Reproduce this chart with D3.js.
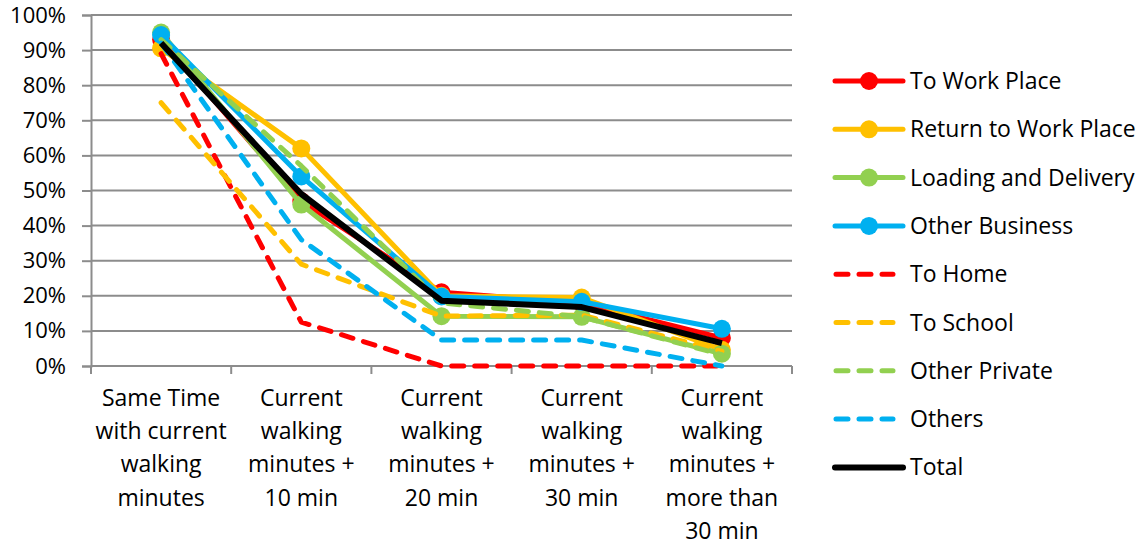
<!DOCTYPE html>
<html><head><meta charset="utf-8">
<script src="https://cdn.jsdelivr.net/npm/d3@7"></script>
<style>body{margin:0;background:#fff;} text{font-family:"Open Sans",Lato,sans-serif;fill:#000;}</style>
</head><body>
<svg id="c" width="1148" height="545"></svg>
<script>
const categories = [
  ["Same Time","with current","walking","minutes"],
  ["Current","walking","minutes +","10 min"],
  ["Current","walking","minutes +","20 min"],
  ["Current","walking","minutes +","30 min"],
  ["Current","walking","minutes +","more than","30 min"]
];
const yTicks = [0,10,20,30,40,50,60,70,80,90,100];
const seriesNames = ["To Work Place","Return to Work Place","Loading and Delivery","Other Business","To Home","To School","Other Private","Others","Total"];
const seriesColors = ["#ff0000","#ffc000","#92d050","#00b0f0","#ff0000","#ffc000","#92d050","#00b0f0","#000000"];
const seriesDashed = [false,false,false,false,true,true,true,true,false];
const seriesMarker = [true,true,true,true,false,false,false,false,false];
const toWorkPlace     = [93, 47, 21, 18, 8];
const returnToWork    = [90.5, 62, 20, 19.5, 4.6];
const loadingDelivery = [95, 46, 14.2, 14, 3.5];
const otherBusiness   = [94.3, 54, 19.8, 18.3, 10.6];
const toHome          = [89, 12.5, 0, 0, 0];
const toSchool        = [75, 29, 14.2, 14.5, 4.2];
const otherPrivate    = [93, 57, 18, 14, 3.2];
const others          = [92, 36, 7.4, 7.4, 0];
const total           = [92, 49, 18.6, 16.8, 6.5];
const seriesValues = [toWorkPlace, returnToWork, loadingDelivery, otherBusiness, toHome, toSchool, otherPrivate, others, total];

const svg = d3.select("#c");
const mLeft = 91, mRight = 792, mTop = 15, mBottom = 366;
const x = d3.scaleBand().domain(d3.range(categories.length)).range([mLeft, mRight]).padding(0);
const y = d3.scaleLinear().domain([0, 100]).range([mBottom, mTop]);
const cx = i => x(i) + x.bandwidth() / 2;
const grid = "#8c8c8c";
const fs = 23;

// gridlines
svg.append("g").selectAll("line").data(yTicks.filter(t => t > 0)).join("line")
  .attr("x1", mLeft).attr("x2", mRight).attr("y1", d => y(d)).attr("y2", d => y(d))
  .attr("stroke", grid).attr("stroke-width", 2);

// y axis
const yAxis = svg.append("g").attr("transform", `translate(${mLeft},0)`)
  .call(d3.axisLeft(y).tickValues(yTicks).tickFormat(d => d + "%").tickSize(9).tickPadding(16));
yAxis.select(".domain").attr("stroke", grid).attr("stroke-width", 2);
yAxis.selectAll(".tick line").attr("stroke", grid).attr("stroke-width", 2);
yAxis.selectAll(".tick text").attr("font-size", 22).attr("font-family", "Open Sans").attr("fill", "#000");

// x axis
const xAxis = svg.append("g").attr("transform", `translate(0,${mBottom})`);
xAxis.append("line").attr("x1", mLeft).attr("x2", mRight).attr("stroke", grid).attr("stroke-width", 2);
const bounds = d3.range(categories.length + 1).map(i => i < categories.length ? x(i) : mRight);
xAxis.selectAll("line.t").data(bounds).join("line").attr("class", "t")
  .attr("x1", d => d).attr("x2", d => d).attr("y1", 0).attr("y2", 8)
  .attr("stroke", grid).attr("stroke-width", 2);
categories.forEach((lines, i) => {
  const t = xAxis.append("text").attr("text-anchor", "middle").attr("font-size", fs);
  lines.forEach((ln, j) => t.append("tspan").attr("x", cx(i)).attr("y", 40 + j * 33.2).text(ln));
});

// series
const line = d3.line().x((d, i) => cx(i)).y(d => y(d));
seriesValues.forEach((vals, s) => {
  const g = svg.append("g");
  g.append("path").attr("d", line(vals)).attr("fill", "none")
    .attr("stroke", seriesColors[s])
    .attr("stroke-width", s === 8 ? 6 : 5)
    .attr("stroke-linejoin", "round")
    .attr("stroke-linecap", seriesDashed[s] ? "round" : "butt")
    .attr("stroke-dasharray", seriesDashed[s] ? "12,11" : null);
  if (seriesMarker[s]) {
    g.selectAll("circle").data(vals).join("circle")
      .attr("cx", (d, i) => cx(i)).attr("cy", d => y(d)).attr("r", 9)
      .attr("fill", seriesColors[s]);
  }
});

// legend
const lg = svg.append("g");
seriesNames.forEach((name, s) => {
  const ly = 81 + s * 48.3;
  const g = lg.append("g");
  if (seriesDashed[s]) {
    g.append("line").attr("x1", 836).attr("x2", 893).attr("y1", ly).attr("y2", ly)
      .attr("stroke", seriesColors[s]).attr("stroke-width", 5)
      .attr("stroke-linecap", "round").attr("stroke-dasharray", "12,11");
  } else {
    g.append("line").attr("x1", 835).attr("x2", 903).attr("y1", ly).attr("y2", ly)
      .attr("stroke", seriesColors[s]).attr("stroke-width", s === 8 ? 6 : 5)
      .attr("stroke-linecap", "round");
  }
  if (seriesMarker[s]) g.append("circle").attr("cx", 869).attr("cy", ly).attr("r", 9).attr("fill", seriesColors[s]);
  g.append("text").attr("x", 910).attr("y", ly).attr("dy", "0.35em").attr("font-size", fs).text(name);
});
</script>
</body></html>
